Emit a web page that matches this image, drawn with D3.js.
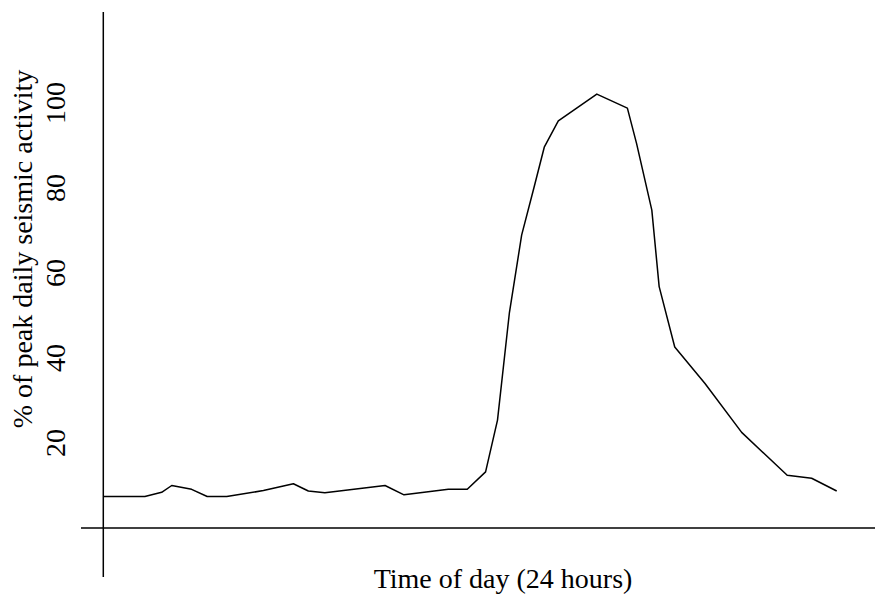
<!DOCTYPE html>
<html>
<head>
<meta charset="utf-8">
<script src="https://cdn.jsdelivr.net/npm/d3@7"></script>
<style>
  html, body { margin: 0; padding: 0; background: #fff; }
  svg { display: block; }
  text { font-family: "Liberation Serif", "Times New Roman", serif; fill: #000; }
</style>
</head>
<body>
<svg id="chart" width="875" height="597"></svg>
<script>
// Time of day (hours) and % of peak daily seismic activity
const hours = [0, 1.36, 1.91, 2.24, 2.89, 3.40, 4.04, 5.24, 6.22, 6.71, 7.25, 9.22, 9.84,
  11.29, 11.91, 12.51, 12.90, 13.29, 13.69, 14.09, 14.43, 14.89, 16.15, 17.15, 17.45,
  17.95, 18.19, 18.70, 19.69, 20.89, 22.38, 23.18, 24];
const activity = [7.4, 7.4, 8.4, 10.0, 9.1, 7.4, 7.4, 8.8, 10.4, 8.7, 8.3, 10.0, 7.8,
  9.1, 9.1, 13.2, 25.4, 50.7, 68.9, 80.0, 89.6, 95.8, 102.1, 98.8, 90.5,
  74.8, 56.8, 42.6, 34.0, 22.5, 12.4, 11.7, 8.7];
const yTicks = [20, 40, 60, 80, 100];
const xTitle = "Time of day (24 hours)";
const yTitle = "% of peak daily seismic activity";

const svg = d3.select("#chart");
const x = d3.scaleLinear().domain([0, 24]).range([103.3, 836.7]);
const y = d3.scaleLinear().domain([0, 100]).range([528, 103]);

// axes lines (crossing)
svg.append("line")
  .attr("x1", x(0)).attr("x2", x(0))
  .attr("y1", y(121.4)).attr("y2", y(-11.5))
  .attr("stroke", "#000").attr("stroke-width", 1.5);
svg.append("line")
  .attr("x1", x(-0.73)).attr("x2", 875)
  .attr("y1", y(0)).attr("y2", y(0))
  .attr("stroke", "#000").attr("stroke-width", 1.5);

// tick labels (rotated)
svg.selectAll("text.ytick").data(yTicks).join("text")
  .attr("class", "ytick")
  .attr("text-anchor", "middle")
  .attr("font-size", 28)
  .attr("transform", d => `translate(65,${y(d)}) rotate(-90)`)
  .text(d => d);

// data line
const pts = hours.map((h, i) => [h, activity[i]]);
svg.append("path")
  .datum(pts)
  .attr("fill", "none")
  .attr("stroke", "#000")
  .attr("stroke-width", 1.5)
  .attr("stroke-linejoin", "round")
  .attr("d", d3.line().x(d => x(d[0])).y(d => y(d[1])));

// titles
svg.append("text")
  .attr("x", 503).attr("y", 588)
  .attr("text-anchor", "middle")
  .attr("font-size", 28)
  .text(xTitle);
svg.append("text")
  .attr("text-anchor", "middle")
  .attr("font-size", 28)
  .attr("transform", "translate(32,249) rotate(-90)")
  .text(yTitle);
</script>
</body>
</html>
